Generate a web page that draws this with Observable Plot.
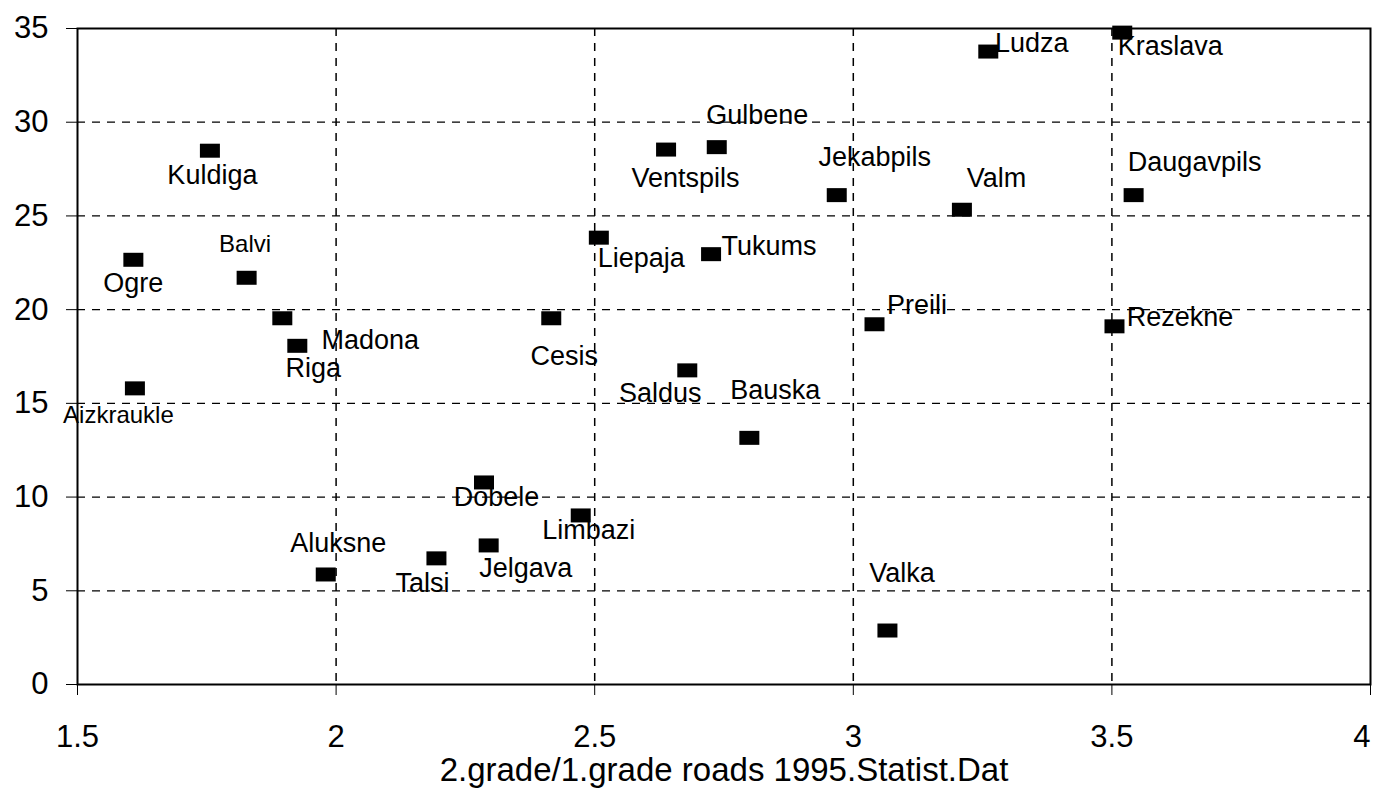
<!DOCTYPE html>
<html>
<head>
<meta charset="utf-8">
<script src="https://cdn.jsdelivr.net/npm/d3@7"></script>
<script src="https://cdn.jsdelivr.net/npm/@observablehq/plot@0.6"></script>
<style>
  html, body { margin: 0; padding: 0; background: white; }
  #chart svg { display: block; }
</style>
</head>
<body>
<div id="chart"></div>
<script>
// ---- data ----
const districts = ["Kraslava","Ludza","Kuldiga","Ventspils","Gulbene","Jekabpils","Valm","Daugavpils",
  "Ogre","Liepaja","Tukums","Balvi","Madona","Riga","Cesis","Preili","Rezekne","Aizkraukle",
  "Saldus","Bauska","Dobele","Limbazi","Jelgava","Talsi","Aluksne","Valka"];
const roadRatio = [3.520,3.261,1.756,2.638,2.736,2.968,3.210,3.542,
  1.608,2.508,2.725,1.827,1.896,1.925,2.416,3.041,3.505,1.611,
  2.679,2.799,2.286,2.473,2.295,2.194,1.980,3.066];
const yValue = [34.78,33.77,28.48,28.54,28.67,26.11,25.33,26.11,
  22.66,23.84,22.96,21.70,19.54,18.07,19.54,19.22,19.11,15.80,
  16.76,13.16,10.78,9.02,7.42,6.73,5.87,2.88];
const xTicks = [1.5, 2, 2.5, 3, 3.5, 4];
const yTicks = [0, 5, 10, 15, 20, 25, 30, 35];
const xGridValues = [2, 2.5, 3, 3.5];
const yGridValues = [5, 10, 15, 20, 25, 30];
const xTitle = "2.grade/1.grade roads 1995.Statist.Dat";

// ---- label placement (pixel offsets from each marker, styling only) ----
const labelDx = [48,43.5,2.5,19.5,40.5,38,34.5,61, 0,42.5,58,-1.5,88,16,13,42.5,65.5,-16.5, -27,26,12.5,8,37,-14,12.5,14.5];
const labelDy = [13.5,-8.5,24.5,28.5,-32,-38,-31.5,-33, 23.5,20.5,-8,-33.5,22,22.5,38,-19,-9,27, 23,-47.5,15,15,23,25,-31,-57];
const smallLabels = ["Balvi", "Aizkraukle"];

const data = districts.map((name, i) => ({name, x: roadRatio[i], y: yValue[i]}));

const rectSymbol = { draw(ctx) { ctx.rect(-10, -7, 20, 14); } };

const labelMarks = data.map((d, i) => Plot.text([d], {
  x: "x", y: "y", text: "name",
  dx: labelDx[i], dy: labelDy[i],
  textAnchor: "middle", lineAnchor: "middle",
  fontSize: smallLabels.includes(d.name) ? 24 : 27,
  fill: "black"
}));

const chart = Plot.plot({
  width: 1373,
  height: 789,
  marginTop: 28,
  marginLeft: 77,
  marginRight: 3,
  marginBottom: 105,
  style: { fontFamily: "'Liberation Sans', Arial, sans-serif", fontSize: "31px", color: "black", background: "white" },
  x: { domain: [1.5, 4], ticks: xTicks, tickFormat: d => String(d), tickSize: 11, tickPadding: 29,
       label: xTitle, labelAnchor: "center", labelOffset: 96, labelArrow: "none" },
  y: { domain: [0, 35], ticks: yTicks, tickFormat: d => String(d), tickSize: 11, tickPadding: 18, label: null },
  marks: [
    Plot.ruleX(xGridValues, { x: d => d, stroke: "black", strokeWidth: 1.5, strokeDasharray: "8,7" }),
    Plot.ruleY(yGridValues, { y: d => d, stroke: "black", strokeWidth: 1.2, strokeDasharray: "8,7" }),
    Plot.frame({ stroke: "black", strokeWidth: 2 }),
    Plot.dot(data, { x: "x", y: "y", symbol: rectSymbol, fill: "black" }),
    ...labelMarks
  ]
});
document.getElementById("chart").appendChild(chart);

// keep the last x tick label inside the picture, and enlarge the axis title
const svg = d3.select(chart.tagName.toLowerCase() === "svg" ? chart : chart.querySelector("svg"));
const xTickLabels = svg.selectAll('g[aria-label="x-axis tick label"] text');
if (xTickLabels.size()) {
  d3.select(xTickLabels.nodes()[xTickLabels.size() - 1]).attr("text-anchor", "end");
}
svg.selectAll('g[aria-label="x-axis label"] text').style("font-size", "33px");
</script>
</body>
</html>
